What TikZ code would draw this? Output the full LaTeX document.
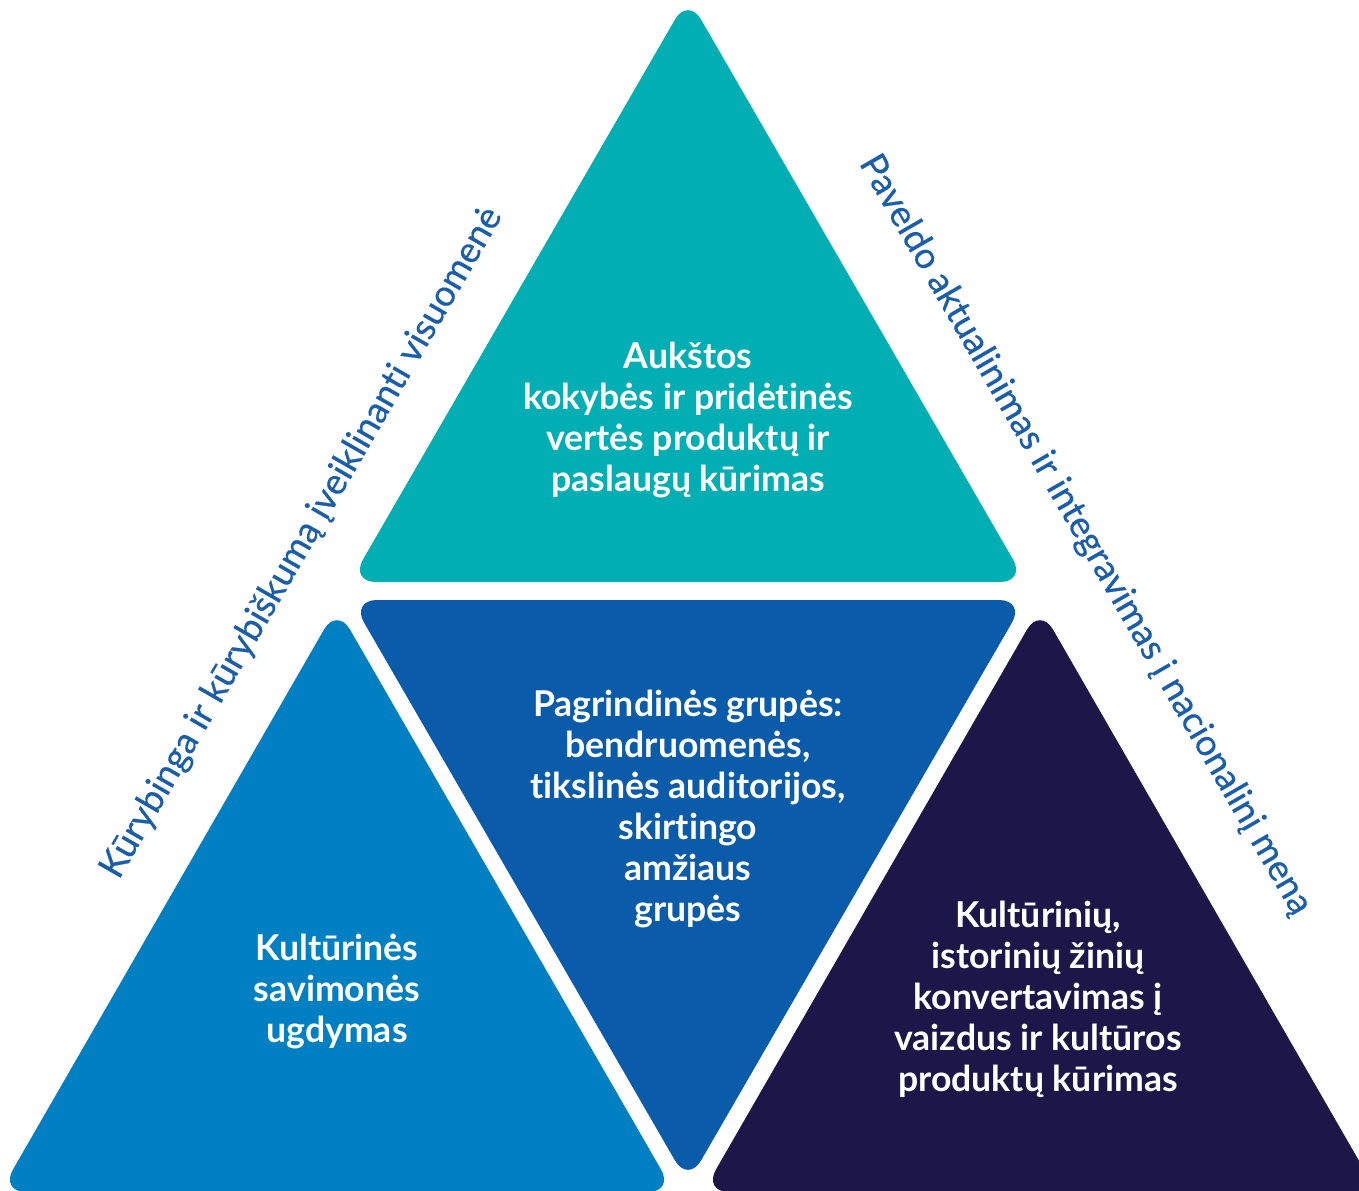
\documentclass[tikz,border=0pt]{standalone}
\usepackage{fontspec}
\setmainfont{Lato}[Ligatures={NoCommon,NoRare,NoContextual}]
\newfontfamily\sidefnt{Lato}[Ligatures={NoCommon,NoRare,NoContextual}, FakeBold=0.5]

\definecolor{topteal}{HTML}{00AEB3}
\definecolor{midblue}{HTML}{0A5CAA}
\definecolor{leftblue}{HTML}{0080C3}
\definecolor{rightnavy}{HTML}{1C1649}
\definecolor{sideblue}{HTML}{1A5EAB}

\begin{document}
\begin{tikzpicture}[x=0.5pt, y=-0.5pt,
  tri/.style={rounded corners=13pt},
  lbl/.style={text=white, align=center, font=\bfseries\fontsize{17.8}{20.5}\selectfont},
  side/.style={text=sideblue, font=\sidefnt\fontsize{18.2}{20}\selectfont}]
  \useasboundingbox (0,0) rectangle (1359,1190);
  \clip (0,0) rectangle (1359,1190);
  % triangles
  \fill[tri, topteal]   (688,-3) -- (1026,582) -- (350,582) -- cycle;
  \fill[tri, midblue]   (351,600) -- (1025,600) -- (688,1183) -- cycle;
  \fill[tri, leftblue]  (337,607) -- (674,1192) -- (0,1192) -- cycle;
  \fill[tri, rightnavy] (1040,607) -- (1377,1192) -- (703,1192) -- cycle;
  % labels
  \node[lbl] (top)   at (688,420)  {Aukštos\\kokybės ir pridėtinės\\vertės produktų ir\\paslaugų kūrimas};
  \node[lbl] (mid)   at (688,809)  {Pagrindinės grupės:\\bendruomenės,\\tikslinės auditorijos,\\skirtingo\\amžiaus\\grupės};
  \node[lbl] (left)  at (337,991)  {Kultūrinės\\savimonės\\ugdymas};
  \node[lbl] (right) at (1038,999) {Kultūrinių,\\istorinių žinių\\konvertavimas į\\vaizdus ir kultūros\\produktų kūrimas};
  % side captions
  \node[side, rotate=60]  (kur) at (302,543)  {Kūrybinga ir kūrybiškumą įveiklinanti visuomenė};
  \node[side, rotate=-60] (pav) at (1085,535) {Paveldo aktualinimas ir integravimas į nacionalinį meną};
\end{tikzpicture}
\end{document}
